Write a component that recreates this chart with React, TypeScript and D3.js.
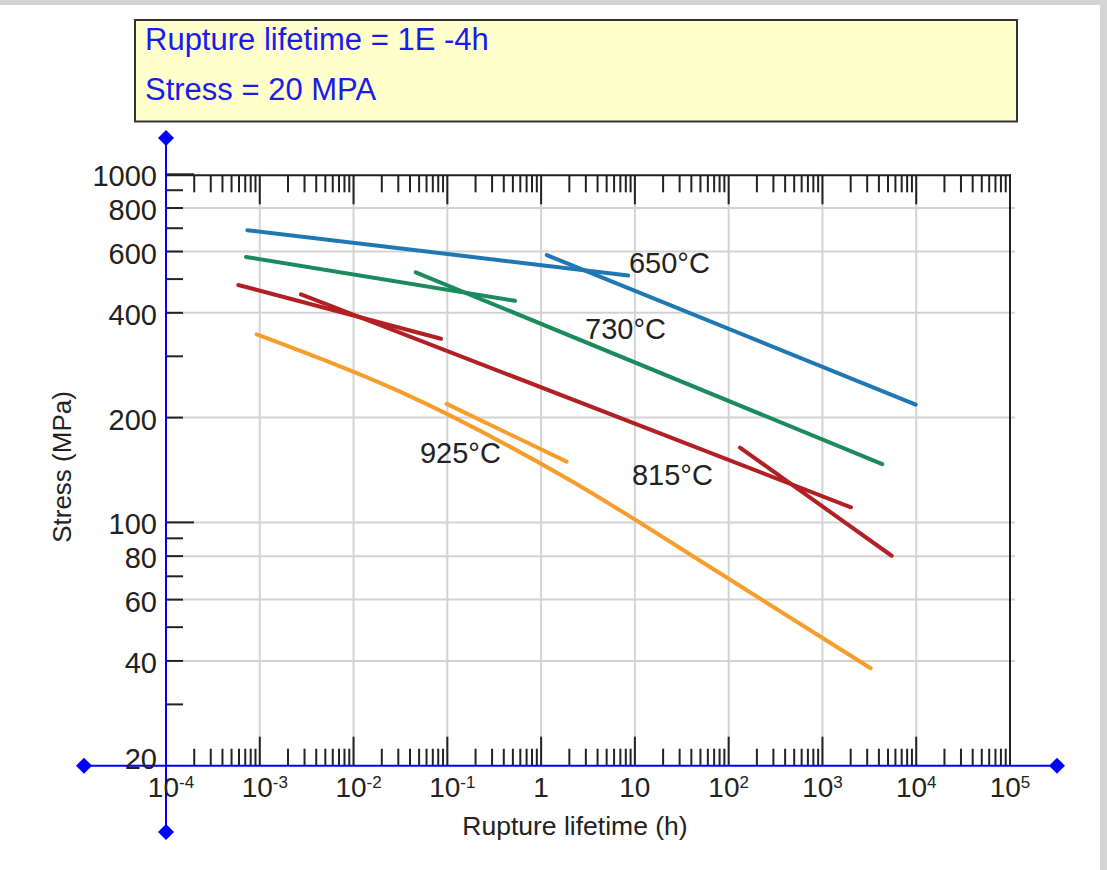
import React from "react";
import * as d3 from "d3";

// ---- data ----
const timeDomain: [number, number] = [1e-4, 1e5];
const stressDomain: [number, number] = [20, 1000];
const xTickExponents = [-4, -3, -2, -1, 0, 1, 2, 3, 4, 5];
const yTickLabels = [1000, 800, 600, 400, 200, 100, 80, 60, 40, 20];
const yGridValues = [800, 600, 400, 200, 100, 80, 60, 40];
const yMinorTicks = [900, 800, 700, 600, 500, 400, 300, 200, 90, 80, 70, 60, 50, 40, 30];
const yMajorTicks = [1000, 100];

// segments: [time (h), stress (MPa)]
const curve650 = [
  [[7.36e-4, 691], [8.5, 512]],
  [[1.15, 586], [9870, 218]],
];
const curve730 = [
  [[7.13e-4, 579], [0.527, 433]],
  [[0.046, 523], [4345, 147]],
];
const curve815 = [
  [[5.9e-4, 481], [0.0856, 337]],
  [[0.00275, 452], [2015, 110.5]],
  [[132, 164], [5470, 80.2]],
];
const curve925 = [
  [[9.27e-4, 347], [0.0313, 237.5], [1.93, 133.3], [80.8, 71.4], [3270, 38.1]],
  [[0.0984, 219], [1.87, 149.5]],
];
const curveNames = ["650°C", "730°C", "815°C", "925°C"];
const curveColors = ["#1f77b4", "#1b8a5c", "#b22024", "#f89d2c"];
// label anchors (time, stress)
const labelTimes = [8.65, 2.94, 9.3, 0.0511];
const labelStresses = [521, 337, 128, 148];

const infoLines = ["Rupture lifetime = 1E -4h", "Stress = 20 MPA"];

const FONT = "'Liberation Sans', Arial, sans-serif";

export default function App() {
  const x = d3.scaleLog().domain(timeDomain).range([166, 1010]);
  const y = d3.scaleLog().domain(stressDomain).range([765.7, 174.3]);
  const curves = [curve650, curve730, curve815, curve925];
  const line = d3
    .line<number[]>()
    .x((d) => x(d[0]))
    .y((d) => y(d[1]))
    .curve(d3.curveMonotoneX);

  const xMinor: number[] = [];
  for (let e = -4; e < 5; e++) {
    for (let m = 2; m <= 9; m++) xMinor.push(m * Math.pow(10, e));
  }
  const xMajor = xTickExponents.filter((e) => e > -4).map((e) => Math.pow(10, e));
  const xGrid = xTickExponents.filter((e) => e > -4 && e < 5).map((e) => Math.pow(10, e));

  const x0 = x(timeDomain[0]);
  const x1 = x(timeDomain[1]);
  const yTop = y(stressDomain[1]);
  const yBot = y(stressDomain[0]);

  const diamond = (cx: number, cy: number, r: number) =>
    `M${cx},${cy - r}L${cx + r},${cy}L${cx},${cy + r}L${cx - r},${cy}Z`;

  return (
    <svg
      width={1107}
      height={870}
      style={{ position: "absolute", left: 0, top: 0, fontFamily: FONT }}
    >
      <rect x={0} y={0} width={1107} height={870} fill="#d4d4d4" />
      <rect x={0} y={5} width={1100} height={865} fill="#ffffff" />

      {/* info box */}
      <rect x={135} y={20} width={882} height={101.5} fill="#ffffcc" stroke="#333" strokeWidth={2} />
      {infoLines.map((t, i) => (
        <text key={i} x={145} y={49.5 + i * 50.5} fontSize={31} fill="#1a1aee">
          {t}
        </text>
      ))}

      {/* grid */}
      {yGridValues.map((v) => (
        <line key={"gy" + v} x1={x0} x2={1015} y1={y(v)} y2={y(v)} stroke="#d3d3d3" strokeWidth={2} />
      ))}
      {xGrid.map((v) => (
        <line key={"gx" + v} x1={x(v)} x2={x(v)} y1={yTop} y2={yBot} stroke="#d3d3d3" strokeWidth={2} />
      ))}

      {/* frame */}
      <line x1={x0} x2={x1 + 1} y1={yTop + 1} y2={yTop + 1} stroke="#222" strokeWidth={2} />
      <line x1={x1} x2={x1} y1={yTop} y2={yBot} stroke="#222" strokeWidth={2} />

      {/* x ticks bottom & top */}
      {xMinor.map((v) => (
        <g key={"xm" + v}>
          <line x1={x(v)} x2={x(v)} y1={yBot} y2={yBot - 17} stroke="#222" strokeWidth={2} />
          <line x1={x(v)} x2={x(v)} y1={yTop + 1} y2={yTop + 18} stroke="#222" strokeWidth={2} />
        </g>
      ))}
      {xMajor.map((v) => (
        <g key={"xM" + v}>
          <line x1={x(v)} x2={x(v)} y1={yBot} y2={yBot - 29} stroke="#222" strokeWidth={2} />
          <line x1={x(v)} x2={x(v)} y1={yTop + 1} y2={yTop + 30} stroke="#222" strokeWidth={2} />
        </g>
      ))}

      {/* y ticks */}
      {yMinorTicks.map((v) => (
        <line key={"ym" + v} x1={x0} x2={x0 + 17} y1={y(v)} y2={y(v)} stroke="#222" strokeWidth={2} />
      ))}
      {yMajorTicks.map((v) => (
        <line key={"yM" + v} x1={x0} x2={x0 + 28} y1={y(v)} y2={y(v)} stroke="#222" strokeWidth={2} />
      ))}

      {/* curves */}
      {curves.map((segs, ci) =>
        segs.map((seg, si) => (
          <path
            key={ci + "-" + si}
            d={line(seg) || ""}
            fill="none"
            stroke={curveColors[ci]}
            strokeWidth={4}
            strokeLinecap="round"
          />
        ))
      )}
      {curveNames.map((n, i) => (
        <text key={n} x={x(labelTimes[i])} y={y(labelStresses[i])} fontSize={29} fill="#222">
          {n}
        </text>
      ))}

      {/* blue axes */}
      <line x1={84} x2={1057} y1={yBot} y2={yBot} stroke="#0000ff" strokeWidth={2} />
      <line x1={x0} x2={x0} y1={138} y2={832} stroke="#0000ff" strokeWidth={2} />
      <path d={diamond(84, yBot, 8)} fill="#0000ff" />
      <path d={diamond(1057, yBot, 8)} fill="#0000ff" />
      <path d={diamond(x0, 138, 8)} fill="#0000ff" />
      <path d={diamond(x0, 832, 8)} fill="#0000ff" />

      {/* y tick labels */}
      {yTickLabels.map((v) => (
        <text
          key={"yl" + v}
          x={157}
          y={y(v) + (v === 20 ? -7 : 2)}
          fontSize={29}
          fill="#222"
          textAnchor="end"
          dominantBaseline="central"
        >
          {v}
        </text>
      ))}

      {/* x tick labels */}
      {xTickExponents.map((e) => {
        const cx = x(Math.pow(10, e)) + (e < 0 ? 5 : 0);
        if (e === 0 || e === 1) {
          return (
            <text key={"xl" + e} x={cx} y={797} fontSize={28} fill="#222" textAnchor="middle">
              {e === 0 ? "1" : "10"}
            </text>
          );
        }
        return (
          <text key={"xl" + e} x={cx} y={797} fontSize={28} fill="#222" textAnchor="middle">
            10
            <tspan fontSize={17} dy={-9}>
              {String(e)}
            </tspan>
          </text>
        );
      })}

      {/* axis titles */}
      <text x={575} y={835} fontSize={26.5} fill="#222" textAnchor="middle">
        Rupture lifetime (h)
      </text>
      <text
        transform={`translate(71,467) rotate(-90)`}
        fontSize={26}
        fill="#222"
        textAnchor="middle"
      >
        Stress (MPa)
      </text>
    </svg>
  );
}
